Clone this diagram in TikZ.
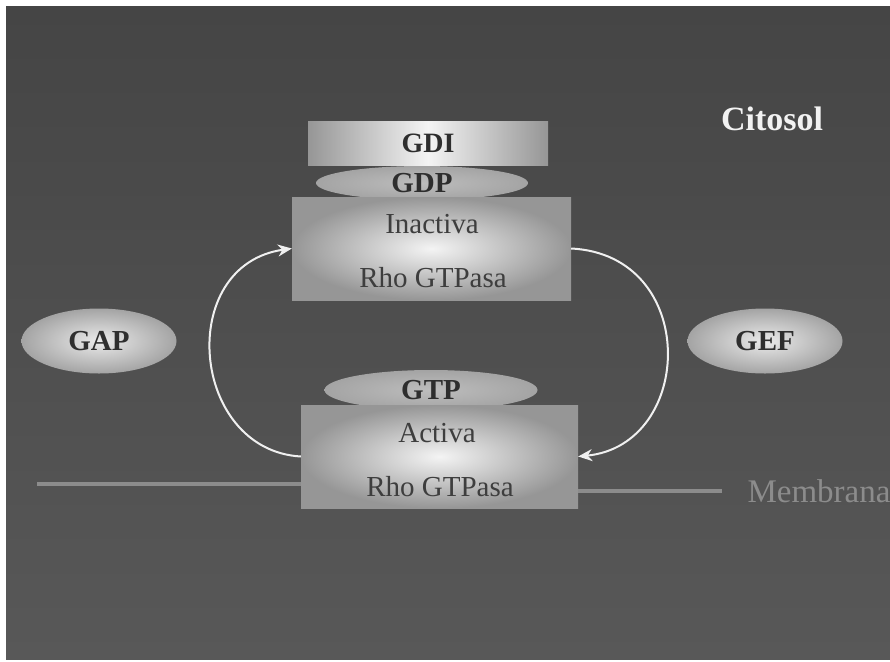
\documentclass[tikz,border=0pt]{standalone}
\usepackage{fontspec}
\setmainfont{Liberation Serif}
\usetikzlibrary{shapes.geometric,arrows.meta}
\definecolor{bgtop}{HTML}{454545}
\definecolor{bgbot}{HTML}{585858}
\definecolor{boxedge}{HTML}{969696}
\definecolor{boxmid}{HTML}{F4F4F4}
\definecolor{ovalgray}{HTML}{A4A4A4}
\definecolor{ovallight}{HTML}{BDBDBD}
\definecolor{inktext}{HTML}{2E2E2E}
\definecolor{membr}{HTML}{8C8C8C}
\tikzset{
  protbox/.style={rectangle, inner sep=0pt, outer color=boxedge, inner color=boxmid},
  capbox/.style={rectangle, inner sep=0pt, left color=boxedge, right color=boxedge, middle color=boxmid},
  nucoval/.style={ellipse, inner sep=0pt, outer color=ovalgray, inner color=ovallight,
    font=\bfseries\fontsize{29}{30}\selectfont, text=inktext},
  regoval/.style={ellipse, inner sep=0pt, outer color=ovalgray, inner color=white!92!black,
    font=\bfseries\fontsize{29}{30}\selectfont, text=inktext},
  boxtext/.style={font=\fontsize{29}{30}\selectfont, text=inktext!80!gray},
  cycarrow/.style={draw=white!94!black, line width=2pt, -{Stealth[length=14pt,width=12pt]}},
  membline/.style={draw=membr, line width=4pt},
}
\begin{document}
\begin{tikzpicture}[x=1pt,y=-1pt]
\useasboundingbox (0,0) rectangle (890,661);
\fill[white] (0,0) rectangle (890,661);
\shade[top color=bgtop, bottom color=bgbot] (6,7) rectangle (890,659);
\coordinate (memL) at (37,484);
\coordinate (memR) at (722,491);
\begin{scope}
\clip (6,7) rectangle (890,659);
\node[font=\fontsize{33}{34}\selectfont, text=membr, anchor=west] (membrana) at (744,491) {Membrana};
\end{scope}
% top complex
\node[capbox, minimum width=240pt, minimum height=44pt] (gdi) at (428,143) {};
\node[font=\bfseries\fontsize{28}{29}\selectfont, text=inktext] (gditext) at (gdi.center) {GDI};
\node[nucoval, minimum width=212pt, minimum height=34pt] (gdp) at (422,183) {GDP};
\node[protbox, minimum width=279pt, minimum height=103pt] (inact) at (431.5,248.5) {};
\node[boxtext] (inacttext) at (432,224) {Inactiva};
\node[boxtext] (rho1) at (433,278) {Rho GTPasa};
% bottom complex
\node[nucoval, minimum width=213pt, minimum height=40pt] (gtp) at (431,390) {GTP};
\node[protbox, minimum width=277pt, minimum height=103pt] (act) at (439.5,456.5) {};
\node[boxtext] (acttext) at (437,433) {Activa};
\node[boxtext] (rho2) at (440,487) {Rho GTPasa};
% membrane lines
\draw[membline] (memL) -- (memL -| act.west);
\draw[membline] (memR -| act.east) -- (memR);
% regulators
\node[regoval, minimum width=155pt, minimum height=65pt] (gap) at (99,341) {GAP};
\node[regoval, minimum width=155pt, minimum height=65pt] (gef) at (765,341) {GEF};
% labels
\node[font=\bfseries\fontsize{34}{35}\selectfont, text=white!95!black] (citosol) at (772,119) {Citosol};
% cycle arrows
\draw[cycarrow] (act.west) .. controls (190,450) and (175,265) .. (inact.west);
\draw[cycarrow] (inact.east) .. controls (700,255) and (695,445) .. (act.east);
\end{tikzpicture}
\end{document}
